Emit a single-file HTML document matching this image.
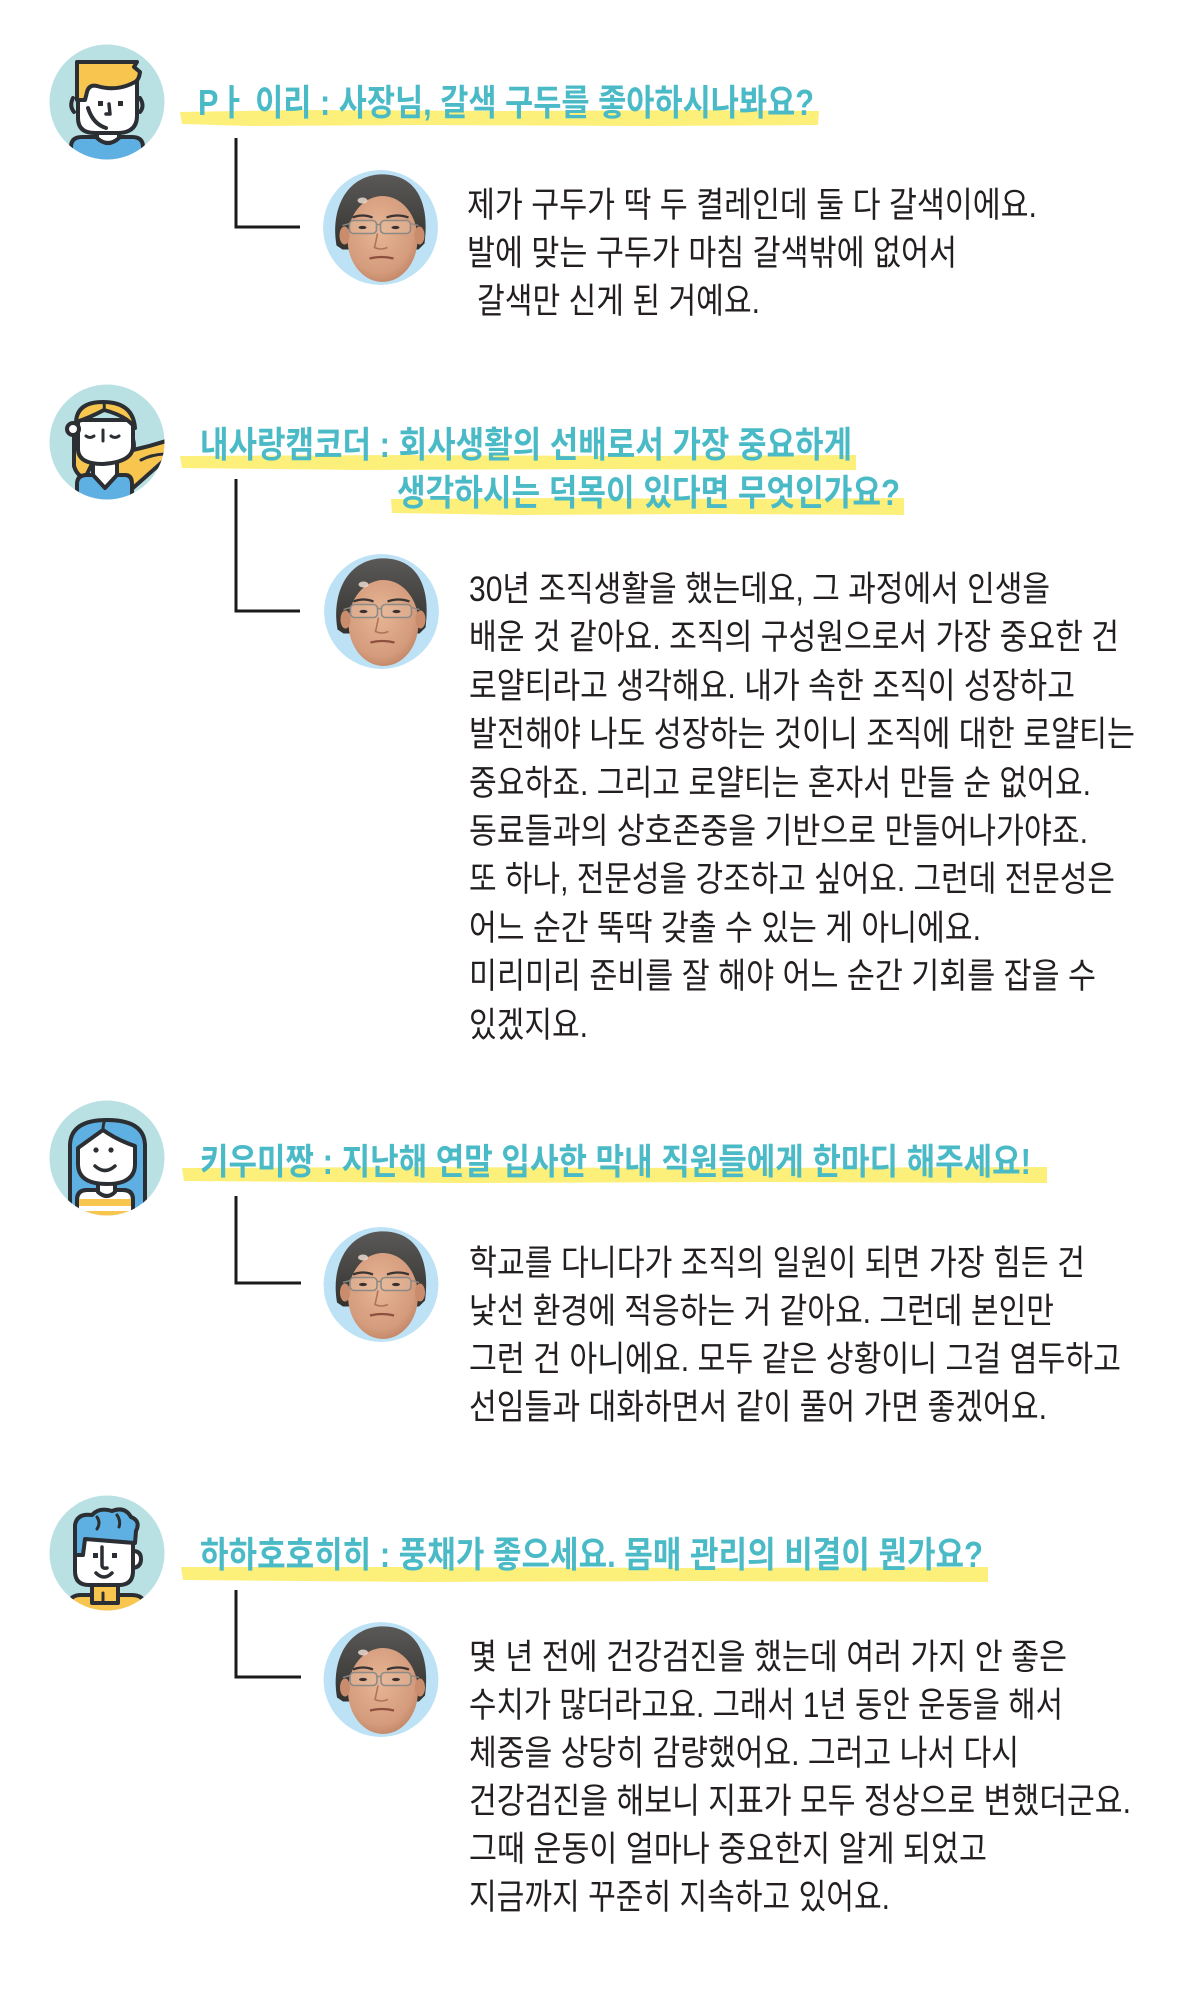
<!DOCTYPE html>
<html lang="ko">
<head>
<meta charset="utf-8">
<style>
  html,body{margin:0;padding:0;background:#fff;}
  body{width:1200px;height:2000px;overflow:hidden;}
  svg{display:block;}
  .q{font-family:"Liberation Sans","Noto Sans CJK KR","NanumGothic",sans-serif;font-weight:700;font-size:36px;fill:#49bac6;}
  .a{font-family:"Liberation Sans","Noto Sans CJK KR","NanumGothic",sans-serif;font-weight:400;font-size:35px;fill:#231f20;}
</style>
</head>
<body>
<svg width="1200" height="2000" viewBox="0 0 1200 2000" xmlns="http://www.w3.org/2000/svg">
  <defs>
    <clipPath id="cc"><circle cx="0" cy="0" r="57.5"/></clipPath>
    <radialGradient id="skin" cx="0.45" cy="0.4" r="0.7">
      <stop offset="0" stop-color="#e6b595"/>
      <stop offset="0.7" stop-color="#d49c7c"/>
      <stop offset="1" stop-color="#b87a5c"/>
    </radialGradient>
    <linearGradient id="hairg" x1="0" y1="0" x2="0" y2="1">
      <stop offset="0" stop-color="#5a5957"/>
      <stop offset="1" stop-color="#33322f"/>
    </linearGradient>
    <g id="face">
      <circle r="57.5" fill="#bde2f6"/>
      <path d="M-44,18 C-50,-16 -36,-50 -2,-53 C32,-55 50,-30 44,16 L38,22 L-38,22 Z" fill="url(#hairg)"/>
      <ellipse cx="2" cy="11.5" rx="35" ry="43" fill="url(#skin)"/>
      <ellipse cx="-36" cy="8" rx="5" ry="9" fill="#c98d6d"/>
      <ellipse cx="39" cy="8" rx="5" ry="9" fill="#c98d6d"/>
      <ellipse cx="-18" cy="-27" rx="5" ry="3" fill="#f4e2d8" opacity="0.8"/>
      <path d="M-28,-10 Q-18,-14 -8,-10" stroke="#3a3433" stroke-width="2.2" fill="none"/>
      <path d="M6,-10 Q17,-14 28,-10" stroke="#3a3433" stroke-width="2.2" fill="none"/>
      <rect x="-31" y="-7" width="27" height="13" rx="4" fill="#e8c2a8" fill-opacity="0.35" stroke="#8d8a86" stroke-width="1.6"/>
      <rect x="0" y="-7" width="30" height="13" rx="4" fill="#e8c2a8" fill-opacity="0.35" stroke="#8d8a86" stroke-width="1.6"/>
      <line x1="-4" y1="-3" x2="0" y2="-3" stroke="#8d8a86" stroke-width="1.6"/>
      <line x1="-31" y1="-4" x2="-38" y2="-2" stroke="#8d8a86" stroke-width="1.4"/>
      <line x1="30" y1="-4" x2="38" y2="-2" stroke="#8d8a86" stroke-width="1.4"/>
      <ellipse cx="-18" cy="0" rx="4" ry="1.6" fill="#3b3030"/>
      <ellipse cx="15" cy="0" rx="4" ry="1.6" fill="#3b3030"/>
      <path d="M-3,6 Q-5,16 -6,20 Q0,23 7,20" stroke="#b07358" stroke-width="1.6" fill="none"/>
      <path d="M-11,31 Q1,28 13,31" stroke="#8e4f3e" stroke-width="2.2" fill="none"/>
    </g>
  </defs>

  <!-- ========== Highlighter bands ========== -->
  <g fill="#fcf07a">
    <path d="M180,112 L300,110 L500,111 L700,110 L819,111 L818,125 L650,126 L420,125 L250,126 L182,124 Z"/>
    <path d="M180,456 L400,455 L640,456 L856,455 L856,470 L600,469 L360,470 L182,468 Z"/>
    <path d="M391,499 L560,498 L760,499 L904,498 L904,515 L700,514 L520,515 L392,513 Z"/>
    <path d="M182,1168 L420,1167 L700,1168 L1047,1167 L1047,1183 L760,1182 L460,1183 L184,1181 Z"/>
    <path d="M181,1567 L420,1567 L700,1568 L988,1567 L988,1582 L700,1581 L420,1582 L183,1580 Z"/>
  </g>

  <!-- ========== Connectors ========== -->
  <g stroke="#1a1a1a" stroke-width="3" fill="none">
    <polyline points="236,138 236,227 300,227"/>
    <polyline points="236,479 236,611 300,611"/>
    <polyline points="236,1196 236,1283 301,1283"/>
    <polyline points="236,1590 236,1677 301,1677"/>
  </g>

  <!-- ========== Photos ========== -->
  <g>
    <g transform="translate(380.5,227.5)"><g clip-path="url(#cc)"><use href="#face"/></g></g>
    <g transform="translate(381.5,611.5)"><g clip-path="url(#cc)"><use href="#face"/></g></g>
    <g transform="translate(381,1284.5)"><g clip-path="url(#cc)"><use href="#face"/></g></g>
    <g transform="translate(381,1679.5)"><g clip-path="url(#cc)"><use href="#face"/></g></g>
  </g>

  <!-- ========== Avatar 1: boy, yellow hair ========== -->
  <g transform="translate(107,102)">
    <circle r="57.5" fill="#b9e1e4"/>
    <g clip-path="url(#cc)" stroke="#2b2f33" stroke-width="4" stroke-linejoin="round" stroke-linecap="round">
      <path d="M-36,64 L-36,45 Q-36,35 -25,35 L25,35 Q36,35 36,45 L36,64 Z" fill="#5eb0e2"/>
      <path d="M-10,26 L-10,36 Q1,46 12,36 L12,26 Z" fill="#fff"/>
      <path d="M-34,-4 Q-38,4 -33,10" fill="none"/>
      <path d="M33,-4 Q38,4 33,10" fill="none"/>
      <path d="M-29,-20 L-29,16 Q-29,31 -12,31 L12,31 Q30,30 30,14 L30,-22 Z" fill="#fff"/>
      <path d="M-30,-2 L-30,-40 L30,-40 L27,-35 L33,-30 Q32,-22 28,-20 Q10,-10 -10,-16 Q-18,-18 -20,-10 L-22,-2 Z" fill="#f8c54f"/>
      <path d="M-19,6 Q-14,22 -1,26" fill="none"/>
      <path d="M2,2 L3,12 L-1,12" fill="none" stroke-width="3.5"/>
    </g>
    <rect x="-9" y="-1" width="5" height="5" fill="#2b2f33"/>
    <rect x="11" y="-1" width="5" height="5" fill="#2b2f33"/>
  </g>

  <!-- ========== Avatar 2: girl, yellow hair ========== -->
  <g transform="translate(107,442)">
    <circle r="57.5" fill="#b9e1e4"/>
    <g clip-path="url(#cc)" stroke="#2b2f33" stroke-width="4" stroke-linejoin="round" stroke-linecap="round">
      <path d="M18,-20 Q30,0 26,8 Q44,4 62,-2 L62,14 Q44,30 26,46 L8,30 Z" fill="#f8c54f"/>
      <path d="M34,18 Q46,12 60,12" fill="none" stroke-width="3"/>
      <path d="M-33,-16 L-33,24 Q-30,34 -22,36 L-14,20 Z" fill="#f8c54f"/>
      <path d="M-30,64 L-30,42 Q-30,33 -20,33 L18,33 Q25,33 25,42 L25,64 Z" fill="#5eb0e2"/>
      <path d="M-14,20 L-14,33 L-2,46 L10,33 L10,20 Z" fill="#fff"/>
      <path d="M-29,-22 L-29,8 Q-28,22 -4,22 Q26,20 26,4 L26,-22 Z" fill="#fff"/>
      <circle cx="-34" cy="-13" r="6" fill="#fff"/>
      <path d="M-31,-20 Q-30,-40 -4,-40 Q26,-40 28,-14 Q20,-26 -3,-32 Q-18,-24 -31,-20 Z" fill="#f8c54f"/>
      <path d="M-3,-32 Q-2,-38 -4,-40" fill="none" stroke-width="3"/>
    </g>
    <g stroke="#2b2f33" stroke-width="3" fill="none" stroke-linecap="round">
      <path d="M-21,-6 Q-17,-3 -13,-6"/>
      <path d="M4,-6 Q8,-3 12,-6"/>
      <line x1="-4" y1="-12" x2="-4" y2="-1"/>
    </g>
  </g>

  <!-- ========== Avatar 3: girl, blue hair ========== -->
  <g transform="translate(107,1158)">
    <circle r="57.5" fill="#b9e1e4"/>
    <g clip-path="url(#cc)" stroke="#2b2f33" stroke-width="4" stroke-linejoin="round" stroke-linecap="round">
      <path d="M-37,64 L-37,-12 Q-37,-38 0,-38 Q38,-38 38,-12 L38,64 Z" fill="#5eb0e2"/>
      <g>
        <path d="M-30,64 L-30,42 Q-30,32 -20,32 L16,32 Q26,32 26,42 L26,64 Z" fill="#fff"/>
        <rect x="-29" y="41" width="54" height="7" fill="#f8c54f" stroke="none"/>
        <rect x="-29" y="53" width="54" height="10" fill="#f8c54f" stroke="none"/>
        <path d="M-30,64 L-30,42 Q-30,32 -20,32 L16,32 Q26,32 26,42 L26,64" fill="none"/>
      </g>
      <path d="M-9,20 L-9,34 Q0,42 8,34 L8,20 Z" fill="#fff"/>
      <path d="M-29,-10 Q-18,-18 -4,-28 Q10,-18 28,-12 L28,6 Q28,26 0,26 Q-29,26 -29,6 Z" fill="#fff"/>
      <path d="M-4,-28 Q-4,-34 -2,-38" fill="none" stroke-width="3"/>
    </g>
    <circle cx="-11" cy="-8" r="2.6" fill="#2b2f33"/>
    <circle cx="4" cy="-8" r="2.6" fill="#2b2f33"/>
    <path d="M-12,8 Q-2,17 8,8" stroke="#2b2f33" stroke-width="3.5" fill="none" stroke-linecap="round"/>
  </g>

  <!-- ========== Avatar 4: boy, blue hair ========== -->
  <g transform="translate(107,1553)">
    <circle r="57.5" fill="#b9e1e4"/>
    <g clip-path="url(#cc)" stroke="#2b2f33" stroke-width="4" stroke-linejoin="round" stroke-linecap="round">
      <path d="M-38,64 L-38,50 Q-36,42 -26,42 L24,42 Q36,42 37,50 L37,64 Z" fill="#f8c54f"/>
      <path d="M-15,30 L-15,50 L11,50 L11,30 Z" fill="#f8c54f"/>
      <line x1="-4" y1="40" x2="-4" y2="50" stroke-width="3"/>
      <path d="M26,-2 Q34,-2 34,6 Q34,15 24,15 Z" fill="#fff"/>
      <path d="M-32,-20 L-32,18 Q-32,32 -18,32 L12,32 Q26,32 26,18 L26,-20 Z" fill="#fff"/>
      <path d="M-32,2 L-32,-28 Q-30,-40 -15,-38 Q-8,-46 5,-42 Q18,-47 24,-36 Q34,-32 29,-22 L28,-10 L-22,-14 L-24,2 Z" fill="#5eb0e2"/>
      <path d="M-10,-36 Q-6,-30 -10,-24" fill="none" stroke-width="3"/>
      <path d="M10,-38 Q14,-32 12,-26" fill="none" stroke-width="3"/>
    </g>
    <rect x="-14" y="0" width="5" height="5" fill="#2b2f33"/>
    <rect x="5" y="0" width="5" height="5" fill="#2b2f33"/>
    <path d="M-5,-6 L-5,12 Q-5,16 0,15" stroke="#2b2f33" stroke-width="3.5" fill="none" stroke-linecap="round"/>
    <path d="M-11,20 Q-3,28 5,20" stroke="#2b2f33" stroke-width="3.5" fill="none" stroke-linecap="round"/>
  </g>

  <!-- ========== Questions ========== -->
  <text class="q" x="198" y="115" textLength="616" lengthAdjust="spacingAndGlyphs">Pㅏ 이리 : 사장님, 갈색 구두를 좋아하시나봐요?</text>
  <text class="q" x="200" y="457" textLength="652" lengthAdjust="spacingAndGlyphs">내사랑캠코더 : 회사생활의 선배로서 가장 중요하게</text>
  <text class="q" x="397" y="505" textLength="503" lengthAdjust="spacingAndGlyphs">생각하시는 덕목이 있다면 무엇인가요?</text>
  <text class="q" x="200" y="1174" textLength="831" lengthAdjust="spacingAndGlyphs">키우미짱 : 지난해 연말 입사한 막내 직원들에게 한마디 해주세요!</text>
  <text class="q" x="200" y="1567" textLength="783" lengthAdjust="spacingAndGlyphs">하하호호히히 : 풍채가 좋으세요. 몸매 관리의 비결이 뭔가요?</text>

  <!-- ========== Answers 1 ========== -->
  <text class="a" x="467" y="217" textLength="570" lengthAdjust="spacingAndGlyphs">제가 구두가 딱 두 켤레인데 둘 다 갈색이에요.</text>
  <text class="a" x="467" y="265" textLength="490" lengthAdjust="spacingAndGlyphs">발에 맞는 구두가 마침 갈색밖에 없어서</text>
  <text class="a" x="477" y="313" textLength="283" lengthAdjust="spacingAndGlyphs">갈색만 신게 된 거예요.</text>

  <!-- ========== Answers 2 ========== -->
  <text class="a" x="469" y="601" textLength="581" lengthAdjust="spacingAndGlyphs">30년 조직생활을 했는데요, 그 과정에서 인생을</text>
  <text class="a" x="469" y="649" textLength="650" lengthAdjust="spacingAndGlyphs">배운 것 같아요. 조직의 구성원으로서 가장 중요한 건</text>
  <text class="a" x="469" y="698" textLength="606" lengthAdjust="spacingAndGlyphs">로얄티라고 생각해요. 내가 속한 조직이 성장하고</text>
  <text class="a" x="469" y="746" textLength="666" lengthAdjust="spacingAndGlyphs">발전해야 나도 성장하는 것이니 조직에 대한 로얄티는</text>
  <text class="a" x="469" y="795" textLength="622" lengthAdjust="spacingAndGlyphs">중요하죠. 그리고 로얄티는 혼자서 만들 순 없어요.</text>
  <text class="a" x="469" y="843" textLength="619" lengthAdjust="spacingAndGlyphs">동료들과의 상호존중을 기반으로 만들어나가야죠.</text>
  <text class="a" x="469" y="891" textLength="646" lengthAdjust="spacingAndGlyphs">또 하나, 전문성을 강조하고 싶어요. 그런데 전문성은</text>
  <text class="a" x="469" y="940" textLength="512" lengthAdjust="spacingAndGlyphs">어느 순간 뚝딱 갖출 수 있는 게 아니에요.</text>
  <text class="a" x="469" y="988" textLength="627" lengthAdjust="spacingAndGlyphs">미리미리 준비를 잘 해야 어느 순간 기회를 잡을 수</text>
  <text class="a" x="469" y="1037" textLength="119" lengthAdjust="spacingAndGlyphs">있겠지요.</text>

  <!-- ========== Answers 3 ========== -->
  <text class="a" x="469" y="1275" textLength="616" lengthAdjust="spacingAndGlyphs">학교를 다니다가 조직의 일원이 되면 가장 힘든 건</text>
  <text class="a" x="469" y="1323" textLength="585" lengthAdjust="spacingAndGlyphs">낯선 환경에 적응하는 거 같아요. 그런데 본인만</text>
  <text class="a" x="469" y="1371" textLength="652" lengthAdjust="spacingAndGlyphs">그런 건 아니에요. 모두 같은 상황이니 그걸 염두하고</text>
  <text class="a" x="469" y="1419" textLength="578" lengthAdjust="spacingAndGlyphs">선임들과 대화하면서 같이 풀어 가면 좋겠어요.</text>

  <!-- ========== Answers 4 ========== -->
  <text class="a" x="469" y="1669" textLength="598" lengthAdjust="spacingAndGlyphs">몇 년 전에 건강검진을 했는데 여러 가지 안 좋은</text>
  <text class="a" x="469" y="1717" textLength="594" lengthAdjust="spacingAndGlyphs">수치가 많더라고요. 그래서 1년 동안 운동을 해서</text>
  <text class="a" x="469" y="1765" textLength="550" lengthAdjust="spacingAndGlyphs">체중을 상당히 감량했어요. 그러고 나서 다시</text>
  <text class="a" x="469" y="1813" textLength="662" lengthAdjust="spacingAndGlyphs">건강검진을 해보니 지표가 모두 정상으로 변했더군요.</text>
  <text class="a" x="469" y="1861" textLength="518" lengthAdjust="spacingAndGlyphs">그때 운동이 얼마나 중요한지 알게 되었고</text>
  <text class="a" x="469" y="1909" textLength="421" lengthAdjust="spacingAndGlyphs">지금까지 꾸준히 지속하고 있어요.</text>
</svg>
</body>
</html>
